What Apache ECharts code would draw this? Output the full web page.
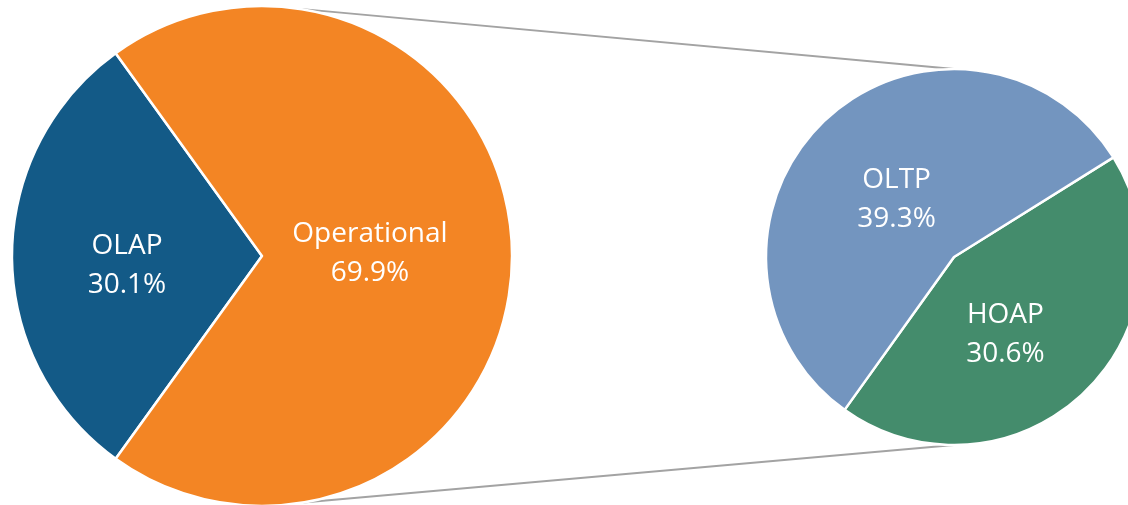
<!DOCTYPE html>
<html>
<head>
<meta charset="utf-8">
<script src="https://cdn.jsdelivr.net/npm/echarts@6/dist/echarts.min.js"></script>
<style>
html,body{margin:0;padding:0;background:#fff;}
#main{width:1128px;height:505px;}
</style>
</head>
<body>
<div id="main"></div>
<script>
// ---- data ----
var mainCategories = ['OLAP', 'Operational'];
var mainValues = [30.1, 69.9];
var subCategories = ['HOAP', 'OLTP'];
var subValues = [30.6, 39.3];

// ---- layout / style ----
var mainColors = ['#135a87', '#f38524'];
var subColors = ['#448c6c', '#7395bf'];
var leftCenter = [262, 256], leftR = 250;
var rightCenter = [954, 257], rightR = 188;
var mainLabelShift = [[-7, 10], [-20, -2]];
var subLabelShift = [[-15, 7], [9, 13]];

var chart = echarts.init(document.getElementById('main'), null, {renderer: 'canvas'});

var mainHalf = mainValues[0] / (mainValues[0] + mainValues[1]) * 180;

function ptOnCircle(c, r, deg) {
  var a = deg * Math.PI / 180;
  return [c[0] + r * Math.cos(a), c[1] - r * Math.sin(a)];
}
var lt = ptOnCircle(leftCenter, leftR, 81.3), rt = ptOnCircle(rightCenter, rightR, 90);
var lb = ptOnCircle(leftCenter, leftR, -80.5), rb = ptOnCircle(rightCenter, rightR, -90);

var labelStyle = {
  show: true,
  position: 'inside',
  formatter: '{b}\n{c}%',
  color: '#ffffff',
  fontFamily: 'Open Sans',
  fontSize: 28,
  lineHeight: 39
};

chart.setOption({
  animation: false,
  backgroundColor: '#ffffff',
  graphic: [
    {type: 'line', shape: {x1: lt[0], y1: lt[1], x2: rt[0], y2: rt[1]}, style: {stroke: '#a3a3a3', lineWidth: 2}, z: -1},
    {type: 'line', shape: {x1: lb[0], y1: lb[1], x2: rb[0], y2: rb[1]}, style: {stroke: '#a3a3a3', lineWidth: 2}, z: -1}
  ],
  series: [
    {
      type: 'pie',
      center: leftCenter,
      radius: [0, leftR],
      startAngle: 180 + mainHalf,
      clockwise: true,
      silent: true,
      label: labelStyle,
      labelLine: {show: false},
      labelLayout: function (p) { var s = mainLabelShift[p.dataIndex]; return {dx: s[0], dy: s[1]}; },
      itemStyle: {borderColor: '#ffffff', borderWidth: 2.5},
      emphasis: {disabled: true},
      data: mainCategories.map(function (n, i) { return {name: n, value: mainValues[i], itemStyle: {color: mainColors[i]}}; })
    },
    {
      type: 'pie',
      center: rightCenter,
      radius: [0, rightR],
      startAngle: 32,
      clockwise: true,
      silent: true,
      label: labelStyle,
      labelLine: {show: false},
      labelLayout: function (p) { var s = subLabelShift[p.dataIndex]; return {dx: s[0], dy: s[1]}; },
      itemStyle: {borderColor: '#ffffff', borderWidth: 2.5},
      emphasis: {disabled: true},
      data: subCategories.map(function (n, i) { return {name: n, value: subValues[i], itemStyle: {color: subColors[i]}}; })
    }
  ]
});
</script>
</body>
</html>
